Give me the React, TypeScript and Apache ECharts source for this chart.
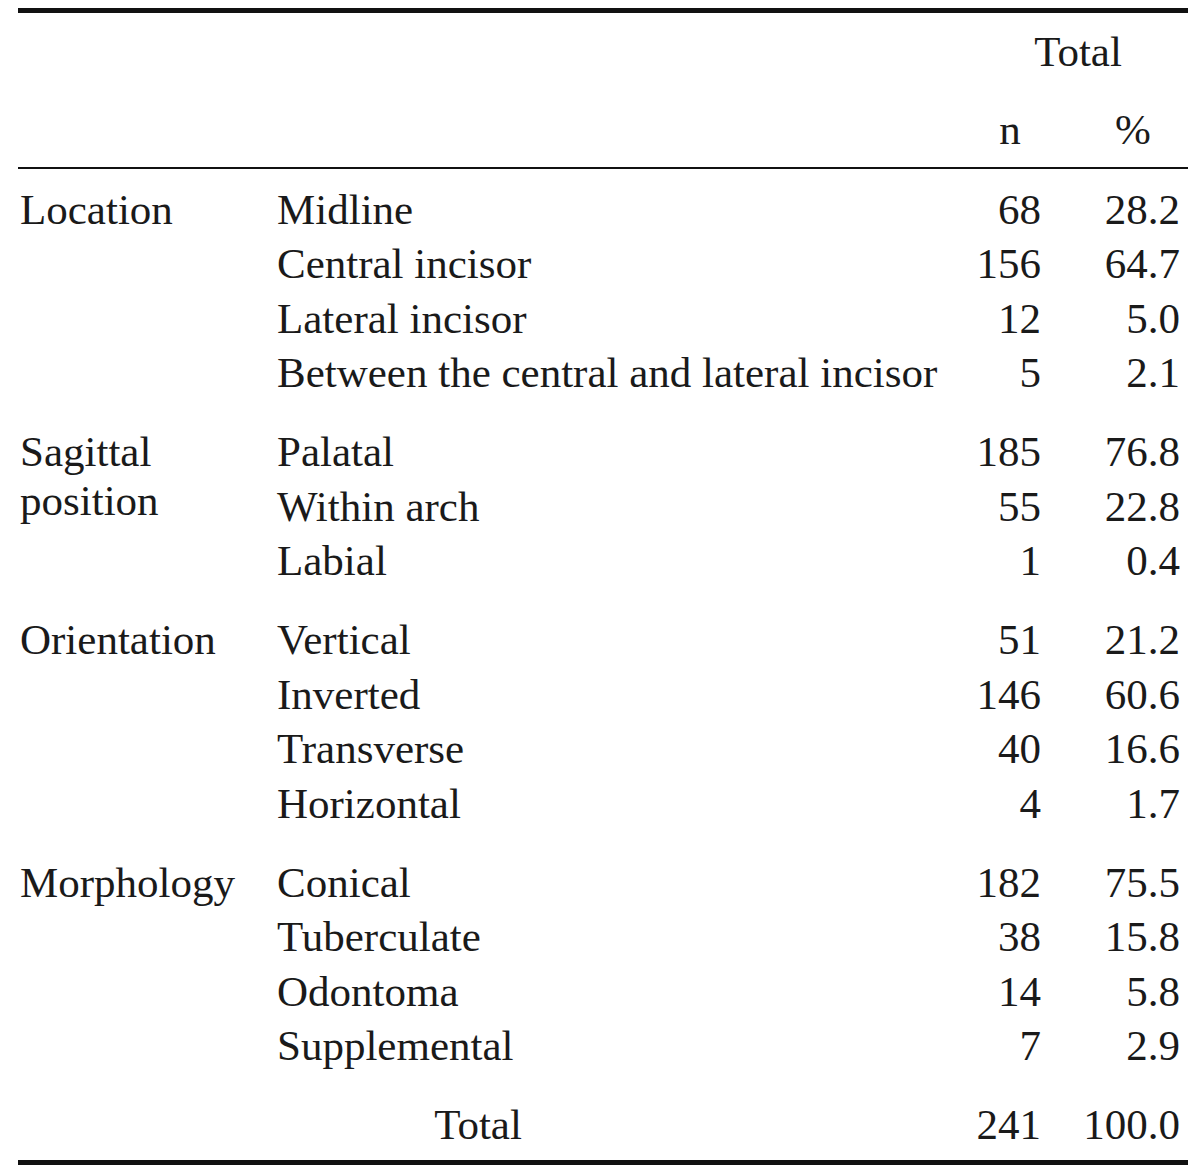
import React, { useEffect, useRef } from "react";
import * as echarts from "echarts";

const groupLabels: string[][] = [["Location"], ["Sagittal", "position"], ["Orientation"], ["Morphology"]];
const subCategories: string[][] = [
  ["Midline", "Central incisor", "Lateral incisor", "Between the central and lateral incisor"],
  ["Palatal", "Within arch", "Labial"],
  ["Vertical", "Inverted", "Transverse", "Horizontal"],
  ["Conical", "Tuberculate", "Odontoma", "Supplemental"],
];
const counts: number[][] = [
  [68, 156, 12, 5],
  [185, 55, 1],
  [51, 146, 40, 4],
  [182, 38, 14, 7],
];
const percents: string[][] = [
  ["28.2", "64.7", "5.0", "2.1"],
  ["76.8", "22.8", "0.4"],
  ["21.2", "60.6", "16.6", "1.7"],
  ["75.5", "15.8", "5.8", "2.9"],
];
const headerTop = "Total";
const headerCols = ["n", "%"];
const totalLabel = "Total";
const totalCount = 241;
const totalPercent = "100.0";

const FONT = '43px "Liberation Serif", "DejaVu Serif", serif';
const COLOR = "#1a1a1a";

export default function App() {
  const ref = useRef<HTMLDivElement>(null);
  useEffect(() => {
    document.body.style.margin = "0";
    const chart = echarts.init(ref.current!, null, { renderer: "svg" });
    const els: any[] = [];
    const txt = (text: string, x: number, y: number, align: string) => {
      els.push({
        type: "text",
        x,
        y,
        style: { text, font: FONT, fill: COLOR, align, verticalAlign: "middle" },
      });
    };
    const hline = (y: number, w: number) => {
      els.push({
        type: "line",
        shape: { x1: 18, y1: y, x2: 1188, y2: y },
        style: { stroke: "#111", lineWidth: w },
      });
    };
    const xGroup = 20;
    const xSub = 277;
    const xN = 1041;
    const xPct = 1180;
    hline(10.5, 5);
    txt(headerTop, 1078, 51, "center");
    txt(headerCols[0], 1010, 129, "center");
    txt(headerCols[1], 1133, 129, "center");
    hline(168, 2);
    const rowStep = 54.5;
    const groupGap = 24.5;
    let y = 209;
    subCategories.forEach((subs, g) => {
      groupLabels[g].forEach((lbl, i) => txt(lbl, xGroup, y + i * 49, "left"));
      subs.forEach((s, i) => {
        txt(s, xSub, y, "left");
        txt(String(counts[g][i]), xN, y, "right");
        txt(percents[g][i], xPct, y, "right");
        y += rowStep;
      });
      y += groupGap;
    });
    y = 1124;
    txt(totalLabel, 478, y, "center");
    txt(String(totalCount), xN, y, "right");
    txt(totalPercent, xPct, y, "right");
    hline(1162.5, 5);
    chart.setOption({ animation: false, backgroundColor: "#fff", graphic: { elements: els } });
    return () => chart.dispose();
  }, []);
  return <div ref={ref} style={{ width: 1200, height: 1172 }} />;
}
